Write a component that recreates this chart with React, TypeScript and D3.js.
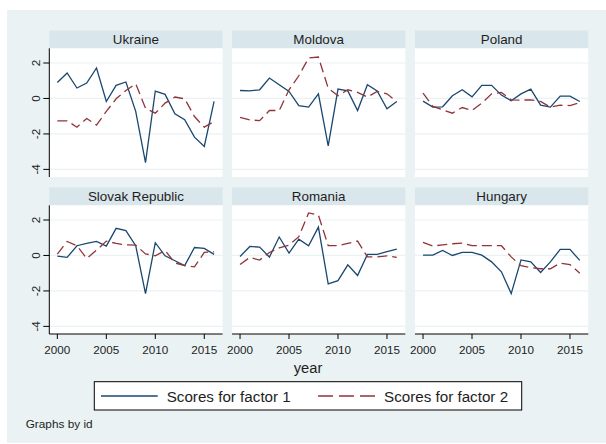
import * as d3 from 'd3';

const years = d3.range(2000, 2017);
const countries = ['Ukraine', 'Moldova', 'Poland', 'Slovak Republic', 'Romania', 'Hungary'];

// Scores for factor 1, one array per country (2000..2016)
const factor1: number[][] = [
  [0.9, 1.44, 0.59, 0.87, 1.72, -0.17, 0.74, 0.93, -0.73, -3.62, 0.42, 0.23, -0.87, -1.2, -2.18, -2.71, -0.17],
  [0.45, 0.43, 0.49, 1.15, 0.77, 0.4, -0.4, -0.49, 0.26, -2.68, 0.53, 0.43, -0.68, 0.77, 0.43, -0.58, -0.17],
  [-0.15, -0.49, -0.47, 0.15, 0.49, 0.09, 0.74, 0.74, 0.19, -0.13, 0.26, 0.53, -0.38, -0.49, 0.13, 0.13, -0.17],
  [-0.04, -0.11, 0.55, 0.68, 0.79, 0.53, 1.53, 1.4, 0.55, -2.15, 0.72, -0.02, -0.3, -0.57, 0.45, 0.4, 0.06],
  [-0.06, 0.51, 0.47, -0.09, 1.04, 0.13, 0.92, 0.55, 1.6, -1.6, -1.42, -0.53, -1.13, 0.06, 0.06, 0.21, 0.36],
  [0.02, 0.02, 0.28, 0, 0.17, 0.17, 0.02, -0.36, -0.92, -2.15, -0.25, -0.36, -0.96, -0.36, 0.34, 0.34, -0.28],
];

// Scores for factor 2
const factor2: number[][] = [
  [-1.26, -1.26, -1.62, -1.13, -1.5, -0.73, -0.02, 0.45, 0.83, -0.55, -0.83, -0.26, 0.08, -0.02, -1.02, -1.62, -1.3],
  [-1.06, -1.21, -1.25, -0.68, -0.68, 0.49, 1.28, 2.28, 2.34, 0.58, 0.15, 0.49, 0.34, 0.08, 0.4, 0.26, -0.17],
  [0.3, -0.45, -0.64, -0.83, -0.51, -0.68, -0.26, 0.26, 0.34, -0.08, -0.09, -0.08, -0.17, -0.49, -0.38, -0.4, -0.23],
  [0.08, 0.79, 0.55, -0.17, 0.3, 0.81, 0.68, 0.6, 0.58, 0.09, -0.02, 0.28, -0.42, -0.57, -0.64, 0.17, 0.21],
  [-0.51, -0.11, -0.26, 0.17, 0.43, 0.58, 1.06, 2.4, 2.28, 0.55, 0.55, 0.68, 0.81, -0.08, -0.08, -0.02, -0.11],
  [0.74, 0.53, 0.6, 0.66, 0.7, 0.55, 0.55, 0.55, 0.55, -0.08, -0.58, -0.68, -0.75, -0.75, -0.43, -0.51, -1.0],
];

const yTicks = [2, 0, -2, -4];
const xTicks = [2000, 2005, 2010, 2015];
const legendLabels = ['Scores for factor 1', 'Scores for factor 2'];

const BLUE = '#1a476f';
const RED = '#90353b';
const BG = '#eaf2f3';
const STRIP = '#d9e6eb';
const FONT = '"Liberation Sans", Arial, Helvetica, sans-serif';

export default function App() {
  const width = 606;
  const height = 444;
  const colX = [49.3, 232, 415];
  const panelW = 173.3;
  const stripTop = [30.5, 187.5];
  const stripH = 17.8;
  const plotH = 128.7;

  const x = d3.scaleLinear().domain([1999.18, 2016.87]).range([0, panelW]);
  const y = d3.scaleLinear().domain([-4.43, 2.83]).range([plotH, 0]);

  const line = d3
    .line<number>()
    .x((_, i) => x(years[i]))
    .y((d) => y(d));

  return (
    <svg
      width={width}
      height={height}
      style={{ position: 'absolute', left: 0, top: 0 }}
      fontFamily={FONT}
    >
      <rect x={0} y={0} width={width} height={height} fill="#fff" />
      <rect x={7} y={10} width={599} height={433} fill={BG} />

      {countries.map((name, idx) => {
        const col = idx % 3;
        const row = Math.floor(idx / 3);
        const px = colX[col];
        const sTop = stripTop[row];
        const pTop = sTop + stripH;
        return (
          <g key={name}>
            <rect x={px} y={sTop} width={panelW} height={stripH} fill={STRIP} />
            <text
              x={px + panelW / 2}
              y={sTop + stripH / 2 + 0.5}
              textAnchor="middle"
              dominantBaseline="central"
              fontSize={13.4}
              fill="#1e1e1e"
            >
              {name}
            </text>
            <g transform={`translate(${px},${pTop})`}>
              <rect x={0} y={0} width={panelW} height={plotH} fill="#fff" />
              {yTicks.map((t) => (
                <line key={t} x1={0} x2={panelW} y1={y(t)} y2={y(t)} stroke={BG} strokeWidth={1.2} />
              ))}
              <path d={line(factor1[idx]) || ''} fill="none" stroke={BLUE} strokeWidth={1.3} />
              <path
                d={line(factor2[idx]) || ''}
                fill="none"
                stroke={RED}
                strokeWidth={1.3}
                strokeDasharray="10,5"
              />
              {col === 0 && (
                <g>
                  <line x1={0} x2={0} y1={0} y2={plotH} stroke="#000" strokeWidth={1} />
                  {yTicks.map((t) => (
                    <g key={t}>
                      <line x1={-6} x2={0} y1={y(t)} y2={y(t)} stroke="#000" strokeWidth={1} />
                      <text
                        transform={`translate(${35 - px},${y(t)}) rotate(-90)`}
                        textAnchor="middle"
                        dominantBaseline="central"
                        fontSize={11.7}
                        fill="#1e1e1e"
                      >
                        {t}
                      </text>
                    </g>
                  ))}
                </g>
              )}
              {row === 1 && (
                <g transform={`translate(0,${plotH})`}>
                  <line x1={0} x2={panelW} y1={0} y2={0} stroke="#000" strokeWidth={1} />
                  {xTicks.map((t) => (
                    <g key={t}>
                      <line x1={x(t)} x2={x(t)} y1={0} y2={5} stroke="#000" strokeWidth={1} />
                      <text
                        x={x(t)}
                        y={15}
                        textAnchor="middle"
                        dominantBaseline="central"
                        fontSize={11.7}
                        fill="#1e1e1e"
                      >
                        {t}
                      </text>
                    </g>
                  ))}
                </g>
              )}
            </g>
          </g>
        );
      })}

      <text x={308} y={368} textAnchor="middle" dominantBaseline="central" fontSize={14.7} fill="#1e1e1e">
        year
      </text>

      <rect x={94.3} y={381.7} width={427.4} height={28.3} fill="#fff" stroke="#000" strokeWidth={1} />
      <line x1={101} x2={157.7} y1={396} y2={396} stroke={BLUE} strokeWidth={1.6} />
      <text x={166.7} y={396} dominantBaseline="central" fontSize={15.2} fill="#1e1e1e">
        {legendLabels[0]}
      </text>
      <line x1={318} x2={375} y1={396} y2={396} stroke={RED} strokeWidth={1.6} strokeDasharray="15,6" />
      <text x={384} y={396} dominantBaseline="central" fontSize={15.2} fill="#1e1e1e">
        {legendLabels[1]}
      </text>

      <text x={25.7} y={424} dominantBaseline="central" fontSize={11.8} fill="#1e1e1e">
        Graphs by id
      </text>
    </svg>
  );
}
